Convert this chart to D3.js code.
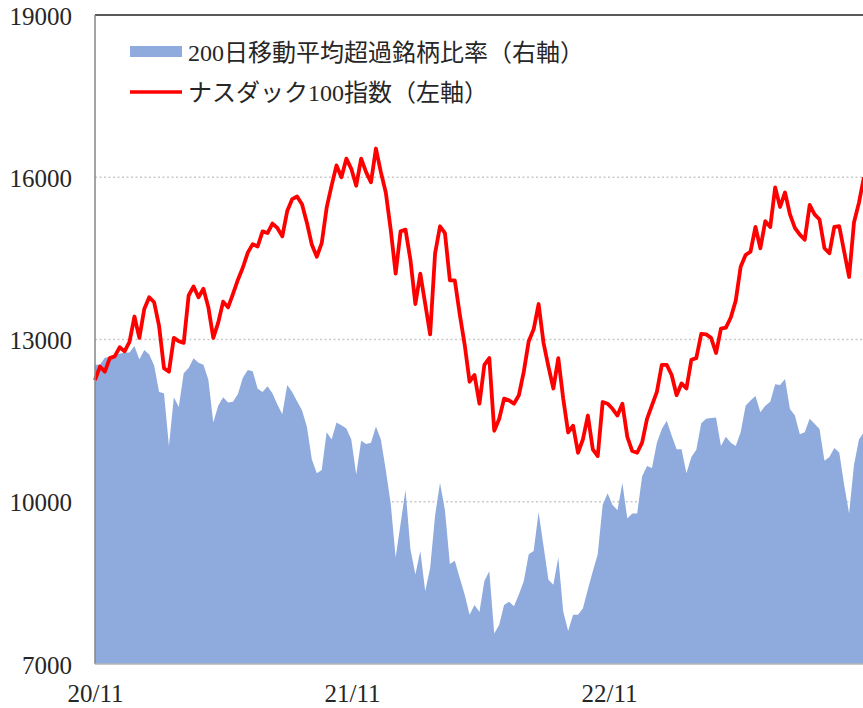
<!DOCTYPE html>
<html>
<head>
<meta charset="utf-8">
<script src="https://cdn.jsdelivr.net/npm/d3@7"></script>
<style>
  body { margin: 0; background: #fff; }
  .canvas text { fill: #262626; }
</style>
</head>
<body>
<div class="canvas"></div>
<script>
/*--------------------------------
  DATA (weekly, from 2020/11)
--------------------------------*/
const weeks = d3.timeWeek.range(new Date(2020, 10, 1), new Date(2023, 9, 30));

// Nasdaq 100 index (left axis)
const ndx = [
  12250, 12500, 12406, 12656, 12688, 12856, 12781, 12956, 13425, 13031,
  13563, 13781, 13688, 13250, 12469, 12406, 13031, 12969, 12938, 13813,
  13981, 13781, 13938, 13594, 13031, 13313, 13700, 13594, 13844, 14106,
  14331, 14606, 14763, 14719, 15000, 14969, 15144, 15063, 14906, 15375,
  15594, 15644, 15500, 15156, 14750, 14531, 14781, 15438, 15844, 16219,
  16000, 16344, 16156, 15844, 16344, 16094, 15906, 16531, 16094, 15719,
  15031, 14219, 15000, 15031, 14469, 13656, 14219, 13656, 13094, 14594,
  15094, 14969, 14094, 14094, 13469, 12906, 12219, 12344, 11813,
  12531, 12656, 11313, 11531, 11906, 11875, 11813, 11969, 12406, 12969,
  13188, 13656, 12938, 12500, 12094, 12656, 11906, 11281, 11406, 10906,
  11156, 11594, 10969, 10844, 11844, 11813, 11719, 11594, 11813, 11200,
  10938, 10906, 11094, 11531, 11781, 12031, 12531, 12531, 12344,
  11969, 12188, 12094, 12625, 12656, 13106, 13094, 13031, 12750, 13200,
  13219, 13406, 13719, 14344, 14563, 14625, 15081, 14688, 15188, 15081,
  15813, 15450, 15719, 15313, 15063, 14938, 14844, 15488, 15313, 15219,
  14688, 14594, 15081, 15094, 14625, 14156, 15169, 15531, 16000,
];

// share of stocks above 200-day MA (right axis, %)
const breadth = [
  46.1, 46.1, 47.2, 47.3, 47.6, 47.8, 48.0, 48.0, 49.0, 46.9,
  48.4, 47.7, 46.0, 41.9, 41.7, 33.6, 41.1, 39.6, 44.8, 45.6,
  47.1, 46.4, 46.1, 43.8, 37.2, 39.8, 41.1, 40.3, 40.4, 41.6,
  44.1, 45.3, 45.1, 42.4, 41.9, 42.8, 41.7, 40.0, 38.5, 43.0,
  41.9, 40.5, 39.1, 36.5, 31.5, 29.4, 29.9, 35.7, 34.6, 37.2,
  36.8, 36.3, 34.6, 29.2, 34.4, 33.9, 34.1, 36.6, 34.6, 29.9,
  24.7, 16.4, 21.6, 26.8, 17.7, 13.8, 17.4, 11.2, 14.8, 22.9,
  27.9, 23.7, 15.4, 15.9, 13.3, 10.7, 7.6, 9.1, 8.0,
  12.8, 14.3, 4.7, 6.0, 9.1, 9.6, 8.9, 10.7, 12.8, 16.9,
  17.4, 23.4, 18.2, 13.0, 12.2, 16.4, 8.1, 5.1, 7.6, 7.6,
  8.6, 11.5, 14.3, 16.9, 24.5, 26.3, 24.5, 23.7, 27.9, 22.4,
  23.2, 23.2, 28.9, 30.5, 30.2, 34.1, 36.2, 37.5, 35.2,
  33.1, 33.1, 29.4, 31.9, 33.0, 37.1, 37.8, 37.9, 38.0, 33.6,
  35.0, 34.1, 33.6, 35.7, 39.8, 40.6, 41.3, 38.8, 39.8, 40.4,
  43.1, 43.0, 43.9, 39.3, 38.3, 35.4, 35.7, 37.8, 37.0, 36.2,
  31.3, 31.9, 33.3, 32.6, 27.6, 23.2, 30.7, 34.6, 35.7,
];

const leftTicks = [7000, 10000, 13000, 16000, 19000];
const gridTicks = [10000, 13000, 16000];
const xTicks = [new Date(2020, 10, 1), new Date(2021, 10, 1), new Date(2022, 10, 1)];
const legendLabels = ['200日移動平均超過銘柄比率（右軸）', 'ナスダック100指数（左軸）'];

/*--------------------------------
  SETUP
--------------------------------*/
const width = 863;
const height = 708;
const margin = { top: 15, left: 95, bottom: 44 };
const plotRight = 866;
const plotBottom = height - margin.bottom;

const svg = d3.select('.canvas')
  .append('svg')
  .attr('width', width)
  .attr('height', height);

const x = d3.scaleTime()
  .domain([new Date(2020, 10, 1), new Date(2023, 10, 1)])
  .range([margin.left, plotRight]);

const y = d3.scaleLinear()
  .domain([7000, 19000])
  .range([plotBottom, margin.top]);

const yRight = d3.scaleLinear()
  .domain([0, 100])
  .range([plotBottom, margin.top]);

const series = weeks.map((d, i) => ({ date: d, ndx: ndx[i], breadth: breadth[i] }));

const numFont = "'Liberation Serif', 'Noto Sans CJK JP', serif";

/*--------------------------------
  GRID
--------------------------------*/
svg.append('g')
  .selectAll('line')
  .data(gridTicks)
  .enter()
  .append('line')
  .attr('x1', margin.left)
  .attr('x2', width)
  .attr('y1', d => y(d))
  .attr('y2', d => y(d))
  .attr('stroke', '#c9c9c9')
  .attr('stroke-width', 1.5)
  .attr('stroke-dasharray', '2,2.5');

/*--------------------------------
  AREA + LINE
--------------------------------*/
const area = d3.area()
  .x(d => x(d.date))
  .y0(plotBottom)
  .y1(d => yRight(d.breadth));

svg.append('path')
  .datum(series)
  .attr('d', area)
  .attr('fill', '#8faadc');

const line = d3.line()
  .x(d => x(d.date))
  .y(d => y(d.ndx));

svg.append('path')
  .datum(series)
  .attr('d', line)
  .attr('fill', 'none')
  .attr('stroke', '#ff0000')
  .attr('stroke-width', 3.8)
  .attr('stroke-linejoin', 'round');

/*--------------------------------
  AXES
--------------------------------*/
// frame: top and left dark, bottom light
svg.append('line')
  .attr('x1', margin.left).attr('x2', width)
  .attr('y1', margin.top).attr('y2', margin.top)
  .attr('stroke', '#595959').attr('stroke-width', 2);

svg.append('line')
  .attr('x1', margin.left).attr('x2', margin.left)
  .attr('y1', margin.top).attr('y2', plotBottom)
  .attr('stroke', '#868686').attr('stroke-width', 1.5);

svg.append('line')
  .attr('x1', margin.left).attr('x2', width)
  .attr('y1', plotBottom).attr('y2', plotBottom)
  .attr('stroke', '#b4b4b4').attr('stroke-width', 1.5);

const yAxis = d3.axisLeft(y)
  .tickValues(leftTicks)
  .tickSize(0)
  .tickPadding(23)
  .tickFormat(d3.format('d'));
const yAxisGroup = svg.append('g')
  .attr('transform', `translate(${margin.left}, 0)`)
  .call(yAxis);
yAxisGroup.select('.domain').remove();
yAxisGroup.selectAll('text')
  .attr('font-family', numFont)
  .attr('font-size', 25)
  .attr('dy', '0.36em');

const xAxis = d3.axisBottom(x).tickValues(xTicks).tickSize(0).tickFormat(d3.timeFormat('%y/%m'));
const xAxisGroup = svg.append('g')
  .attr('transform', `translate(0, ${plotBottom})`)
  .call(xAxis);
xAxisGroup.select('.domain').remove();
xAxisGroup.selectAll('text')
  .attr('font-family', numFont)
  .attr('font-size', 25)
  .attr('y', 38)
  .attr('dy', 0);

/*--------------------------------
  LEGEND
--------------------------------*/
const legend = svg.append('g');

legend.append('rect')
  .attr('x', 130).attr('y', 46)
  .attr('width', 52).attr('height', 11)
  .attr('fill', '#8faadc');

legend.append('line')
  .attr('x1', 130).attr('x2', 182)
  .attr('y1', 92).attr('y2', 92)
  .attr('stroke', '#ff0000')
  .attr('stroke-width', 3.5);

legend.selectAll('text')
  .data(legendLabels)
  .enter()
  .append('text')
  .attr('x', 188)
  .attr('y', (d, i) => 61 + i * 40)
  .attr('font-family', numFont)
  .attr('font-size', 24)
  .text(d => d);
</script>
</body>
</html>
